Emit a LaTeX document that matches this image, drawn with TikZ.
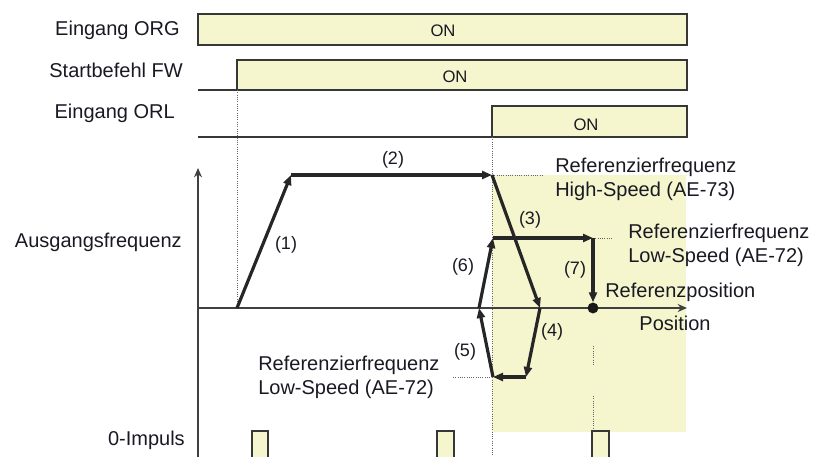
\documentclass[tikz,border=0pt]{standalone}
\usepackage{fontspec}
\setmainfont{Liberation Sans}
\usetikzlibrary{arrows.meta}
\definecolor{sigfill}{RGB}{245,246,206}
\definecolor{edge}{RGB}{55,55,55}
\definecolor{txt}{RGB}{25,25,35}
\begin{document}
\begin{tikzpicture}[x=0.75pt,y=-0.75pt,
  lbl/.style={font=\fontsize{15}{18}\selectfont, text=txt, inner sep=0pt},
  num/.style={font=\fontsize{13.5}{16}\selectfont, text=txt, inner sep=0pt},
  onlbl/.style={font=\fontsize{12.5}{15}\selectfont, text=txt, inner sep=0pt},
  sigbox/.style={draw=edge, line width=1.4pt, fill=sigfill},
  lowline/.style={draw=edge, line width=1.4pt},
  prof/.style={line width=2.4pt, draw=black!85, -{Triangle[length=7.5pt,width=6pt]}},
  guide/.style={densely dotted, line width=0.7pt, draw=black!60},
  axisline/.style={line width=1.1pt, draw=black!75, -{Stealth[length=7pt,width=6pt]}}]
\useasboundingbox (0,0) rectangle (818,457);

% shaded region
\fill[sigfill] (492,175) rectangle (686,432);

% timing signals
\draw[sigbox] (198,14) rectangle (687,45);
\node[onlbl] (on1) at (443,31) {ON};
\draw[lowline] (198,90) -- (237,90);
\draw[sigbox] (237,60) rectangle (687,90);
\node[onlbl] (on2) at (455,77) {ON};
\draw[lowline] (198,137) -- (492,137);
\draw[sigbox] (492,106) rectangle (687,137);
\node[onlbl] (on3) at (586,125) {ON};

\node[lbl, anchor=east] (lorg) at (180,30) {Eingang ORG};
\node[lbl, anchor=east] (lfw) at (183,70) {Startbefehl FW};
\node[lbl, anchor=east] (lorl) at (175,113) {Eingang ORL};
\node[lbl, anchor=east] (lfreq) at (182,242) {Ausgangsfrequenz};
\node[lbl, anchor=east] (limp) at (185,440) {0-Impuls};

% guides
\draw[guide] (237,90) -- (237,308);
\draw[guide] (492,137) -- (492,457);
\draw[guide] (492,175) -- (542,175);
\draw[guide] (453,377) -- (492,377);
\draw[guide] (593,238) -- (612,238);
\draw[guide] (593,346) -- (593,365);
\draw[guide] (593,396) -- (593,431);

% axes
\coordinate (ybot) at (198,457);
\coordinate (ytop) at (198,168);
\coordinate (xl) at (198,308);
\coordinate (xr) at (687,308);
\draw[axisline] (ybot) -- (ytop);
\draw[axisline] (xl) -- (xr);

% zero pulses
\draw[sigbox] (252,458) -- (252,431) -- (268,431) -- (268,458);
\draw[sigbox] (437,458) -- (437,431) -- (454,431) -- (454,458);
\draw[sigbox] (592,458) -- (592,431) -- (609,431) -- (609,458);

% profile
\coordinate (p0) at (237,308);
\coordinate (p1) at (291,175);
\coordinate (p2) at (492,175);
\coordinate (p3) at (540,308);
\coordinate (p4) at (526,377);
\coordinate (p5) at (493,377);
\coordinate (p6) at (479,308);
\coordinate (p7) at (493,238);
\coordinate (p8) at (593,238);
\node[circle, fill=black!90, inner sep=0pt, minimum size=8.2pt] (ref) at (593,308) {};
\draw[prof] (p0) -- (p1);
\draw[prof] (p1) -- (p2);
\draw[prof] (p2) -- (p3);
\draw[prof] (p3) -- (p4);
\draw[prof] (p4) -- (p5);
\draw[prof] (p5) -- (p6);
\draw[prof] (p6) -- (p7);
\draw[prof] (p7) -- (p8);
\draw[prof] (p8) -- (ref.north);

% step labels
\node[num] (n1) at (286,245) {(1)};
\node[num] (n2) at (393,160) {(2)};
\node[num] (n3) at (530,220) {(3)};
\node[num] (n4) at (552,332) {(4)};
\node[num] (n5) at (465,352) {(5)};
\node[num] (n6) at (463,267) {(6)};
\node[num] (n7) at (575,270) {(7)};

% texts
\node[lbl, anchor=west, align=left] (hs) at (555,179) {Referenzierfrequenz\\High-Speed (AE-73)};
\node[lbl, anchor=west, align=left] (ls1) at (628,245) {Referenzierfrequenz\\Low-Speed (AE-72)};
\node[lbl, anchor=west, align=left] (ls2) at (258,377) {Referenzierfrequenz\\Low-Speed (AE-72)};
\node[lbl, anchor=west] (rpos) at (605,292) {Referenzposition};
\node[lbl] (pos) at (675,323) {Position};
\end{tikzpicture}
\end{document}
